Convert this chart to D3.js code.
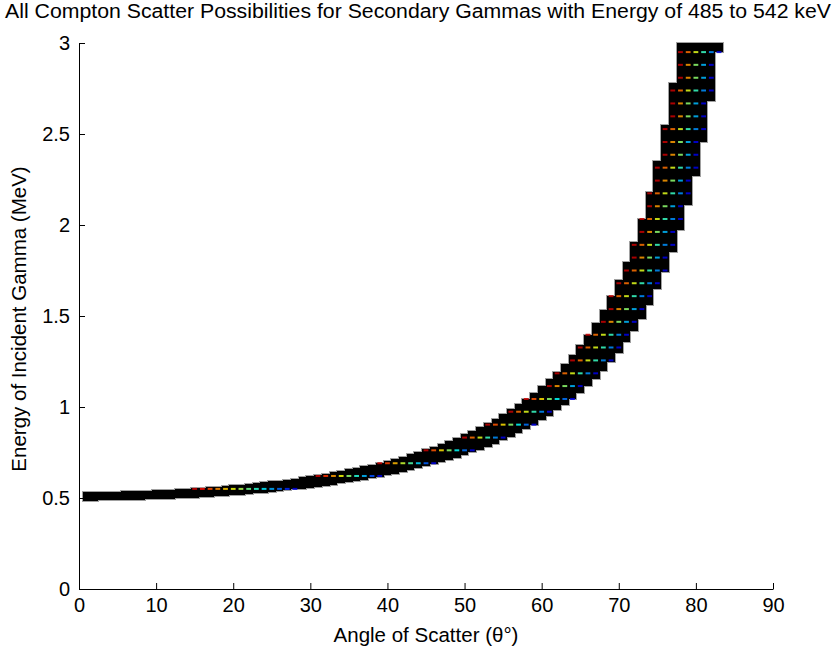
<!DOCTYPE html>
<html>
<head>
<meta charset="utf-8">
<script src="https://cdn.jsdelivr.net/npm/d3@7"></script>
<style>
body { margin: 0; background: #fff; }
svg { display: block; }
text { font-family: "Liberation Sans", Arial, sans-serif; fill: #000; }
</style>
</head>
<body>
<svg id="chart" width="836" height="651"></svg>
<script>
// scatter angle columns (degrees) and the energy span each one covers (MeV)
const angles = [1,2,3,4,5,6,7,8,9,10,11,12,13,14,15,16,17,18,19,20,
  21,22,23,24,25,26,27,28,29,30,31,32,33,34,35,36,37,38,39,40,
  41,42,43,44,45,46,47,48,49,50,51,52,53,54,55,56,57,58,59,60,
  61,62,63,64,65,66,67,68,69,70,71,72,73,74,75,76,77,78,79,80,81,82,83]
const colLow = [0.486,0.486,0.487,0.487,0.488,0.489,0.490,0.491,0.492,0.493,
  0.495,0.496,0.498,0.500,0.502,0.505,0.507,0.510,0.513,0.516,
  0.519,0.522,0.526,0.530,0.534,0.538,0.542,0.547,0.552,0.557,
  0.562,0.568,0.574,0.580,0.587,0.594,0.601,0.609,0.617,0.625,
  0.634,0.643,0.653,0.663,0.674,0.685,0.697,0.709,0.722,0.736,
  0.751,0.766,0.782,0.799,0.818,0.837,0.857,0.879,0.902,0.927,
  0.953,0.981,1.011,1.043,1.078,1.115,1.156,1.199,1.247,1.299,
  1.355,1.418,1.486,1.562,1.647,1.742,1.849,1.970,2.109,2.270,2.458,2.681,2.949]
const colHigh = [0.533,0.533,0.534,0.534,0.535,0.536,0.537,0.539,0.540,0.542,
  0.543,0.545,0.548,0.550,0.553,0.555,0.559,0.562,0.565,0.569,
  0.573,0.577,0.581,0.586,0.591,0.596,0.601,0.607,0.613,0.620,
  0.626,0.633,0.641,0.649,0.657,0.666,0.675,0.684,0.694,0.705,
  0.716,0.728,0.741,0.754,0.768,0.782,0.797,0.814,0.831,0.849,
  0.869,0.890,0.912,0.935,0.960,0.987,1.015,1.046,1.079,1.114,
  1.152,1.193,1.238,1.287,1.340,1.398,1.462,1.533,1.612,1.699,
  1.797,1.909,2.035,2.180,2.349,2.547,2.782,3.0,3.0,3.0,3.0,3.0,3.0]

// incident energy rows carrying the coloured marks, first/last angle of each row
const rowE = [0.550,0.621,0.691,0.762,0.832,0.903,0.974,1.044,1.115,1.185,
  1.256,1.327,1.397,1.468,1.538,1.609,1.680,1.750,1.821,1.891,
  1.962,2.033,2.103,2.174,2.244,2.315,2.386,2.456,2.527,2.597,
  2.668,2.739,2.809,2.880,2.950]
const rowFirst = [15,31,39,45,50,53,56,58,61,62,64,65,66,68,69,69,70,71,72,72,
  73,73,74,74,75,75,76,76,76,77,77,77,78,78,78]
const rowLast = [28,39,46,51,55,59,61,64,65,67,69,70,71,72,73,74,75,76,76,77,
  77,78,78,79,79,80,80,80,81,81,81,82,82,82,83]

const xTicks = [0,10,20,30,40,50,60,70,80,90]
const yTicks = [0,0.5,1,1.5,2,2.5,3]

const svg = d3.select('#chart')
const plot = {left: 79, top: 43, right: 773, bottom: 589}

const x = d3.scaleLinear().domain([0, 90]).range([plot.left, plot.right])
const y = d3.scaleLinear().domain([0, 3]).range([plot.bottom, plot.top])

// jet colours, dark red on the left of a row to blue on the right
function jet(t) {
    const c = v => Math.max(0, Math.min(1, v))
    const r = c(1.5 - Math.abs(4 * t - 3))
    const g = c(1.5 - Math.abs(4 * t - 2))
    const b = c(1.5 - Math.abs(4 * t - 1))
    return d3.rgb(r * 255, g * 255, b * 255).toString()
}

svg.append('clipPath').attr('id', 'clip')
    .append('rect')
    .attr('x', plot.left).attr('y', plot.top - 3)
    .attr('width', plot.right - plot.left).attr('height', plot.bottom - plot.top + 3)

// pixel-snapped edges so neighbouring columns join without seams
const cols = angles.map((a, i) => ({
    x0: Math.round(x(a - 0.5)),
    x1: Math.round(x(a + 0.5)),
    y0: Math.round(y(colHigh[i])),
    y1: Math.round(y(colLow[i]))
}))
const g = svg.append('g').attr('clip-path', 'url(#clip)')

// soft grey rim first, then the black blocks on top of it
g.append('g').selectAll('rect')
    .data(cols)
    .enter().append('rect')
    .attr('x', d => d.x0 - 1)
    .attr('y', d => d.y0 - 1)
    .attr('width', d => d.x1 - d.x0 + 2)
    .attr('height', d => d.y1 - d.y0 + 2)
    .attr('shape-rendering', 'crispEdges')
    .style('fill', '#a0a0a0')

g.append('g').selectAll('rect')
    .data(cols)
    .enter().append('rect')
    .attr('x', d => d.x0)
    .attr('y', d => d.y0)
    .attr('width', d => d.x1 - d.x0)
    .attr('height', d => d.y1 - d.y0)
    .attr('shape-rendering', 'crispEdges')
    .style('fill', '#000')

const marks = []
rowE.forEach((e, i) => {
    const n = rowLast[i] - rowFirst[i]
    d3.range(rowFirst[i], rowLast[i] + 1).forEach((a, k) => {
        marks.push({a: a, e: e, t: n > 0 ? 0.93 - 0.83 * k / n : 0.5})
    })
})

g.append('g').selectAll('rect')
    .data(marks)
    .enter().append('rect')
    .attr('x', d => x(d.a) - 2.4)
    .attr('y', d => y(d.e) - 1)
    .attr('width', 4.8)
    .attr('height', 2)
    .style('fill', d => jet(d.t))
    .style('opacity', 0.85)

// axes, MATLAB style with ticks pointing inwards and no box
svg.append('g')
    .attr('transform', `translate(0,${plot.bottom})`)
    .call(d3.axisBottom(x).tickValues(xTicks).tickSizeInner(-6).tickSizeOuter(0).tickPadding(9))
svg.append('g')
    .attr('transform', `translate(${plot.left},0)`)
    .call(d3.axisLeft(y).tickValues(yTicks).tickSizeInner(-6).tickSizeOuter(0).tickPadding(9)
        .tickFormat(d3.format('~g')))

svg.selectAll('.domain').style('stroke', '#000')
svg.selectAll('.tick line').style('stroke', '#000')
svg.selectAll('.tick text').style('font-size', '20px').style('font-family', '"Liberation Sans", Arial, sans-serif')

svg.append('text')
    .attr('x', 418).attr('y', 17.5)
    .attr('text-anchor', 'middle')
    .attr('textLength', 826).attr('lengthAdjust', 'spacingAndGlyphs')
    .style('font-size', '19.5px')
    .text('All Compton Scatter Possibilities for Secondary Gammas with Energy of 485 to 542 keV')

svg.append('text')
    .attr('x', x(45)).attr('y', 642)
    .attr('text-anchor', 'middle')
    .style('font-size', '20.5px')
    .text('Angle of Scatter (θ°)')

svg.append('text')
    .attr('transform', `translate(26,319) rotate(-90)`)
    .attr('text-anchor', 'middle')
    .style('font-size', '20.5px')
    .text('Energy of Incident Gamma (MeV)')
</script>
</body>
</html>
